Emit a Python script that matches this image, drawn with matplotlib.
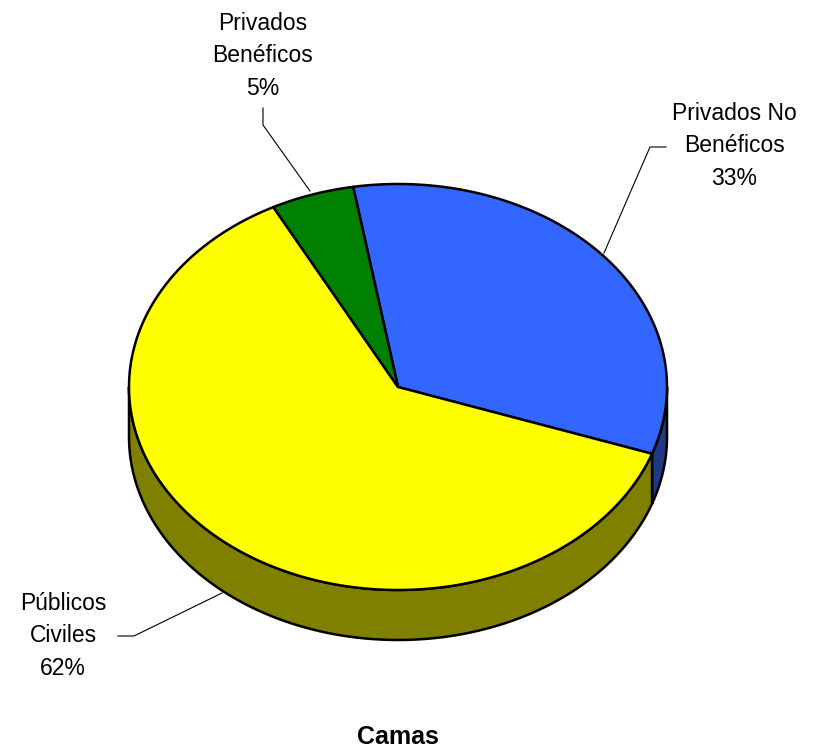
import numpy as np
import matplotlib.pyplot as plt
from matplotlib.patches import Polygon

plt.rcParams['font.family'] = ['Liberation Sans', 'DejaVu Sans']

labels = ['Privados No\nBenéficos', 'Públicos\nCiviles', 'Privados\nBenéficos']
values = [33, 62, 5]
top_colors = ['#3366FF', '#FFFF00', '#008000']
side_colors = ['#1F3A80', '#808000', '#004000']

# pie geometry in pixel space
cx, cy = 398, 387
rx, ry = 269, 203
depth = 50
start = 99.6  # degrees, slices go clockwise

fig = plt.figure(figsize=(8.18, 7.52), dpi=100)
ax = fig.add_axes([0, 0, 1, 1])
ax.set_xlim(0, 818)
ax.set_ylim(752, 0)
ax.axis('off')


def ell(t, dy=0):
    t = np.radians(t)
    return np.column_stack([cx + rx * np.cos(t), cy - ry * np.sin(t) + dy])


fracs = np.array(values) / sum(values)
bounds = []
a = start
for f in fracs:
    bounds.append((a - 360 * f, a))
    a -= 360 * f

# side walls (front half only: 180..360 deg)
for (t1, t2), sc in zip(bounds, side_colors):
    for off in (0, -360, 360):
        lo = max(t1 + off, 180)
        hi = min(t2 + off, 360)
        if hi > lo:
            ts = np.linspace(lo, hi, 100)
            pts = np.vstack([ell(ts), ell(ts[::-1], depth)])
            ax.add_patch(Polygon(pts, closed=True, fc=sc, ec='black', lw=1.8,
                                 joinstyle='round'))

# top face
for (t1, t2), tc in zip(bounds, top_colors):
    ts = np.linspace(t1, t2, 200)
    pts = np.vstack([[cx, cy], ell(ts)])
    ax.add_patch(Polygon(pts, closed=True, fc=tc, ec='black', lw=1.8,
                         joinstyle='round'))

# labels and leader lines
txt = [f'{l}\n{v}%' for l, v in zip(labels, values)]
kw = dict(ha='center', va='center', fontsize=16.5, linespacing=1.55)
ax.text(734, 146, txt[0], **kw)
ax.plot([666, 650, 604], [147, 147, 253], color='black', lw=0.8)

ax.text(63, 636, txt[1], **kw)
ax.plot([118, 134, 222], [636, 636, 593], color='black', lw=0.8)

ax.text(263, 56, txt[2], **kw)
ax.plot([263, 263, 310], [108, 125, 191], color='black', lw=0.8)

ax.text(398, 737, 'Camas', ha='center', va='center', fontsize=18, fontweight='bold')

fig.savefig('out.png', dpi=100)
